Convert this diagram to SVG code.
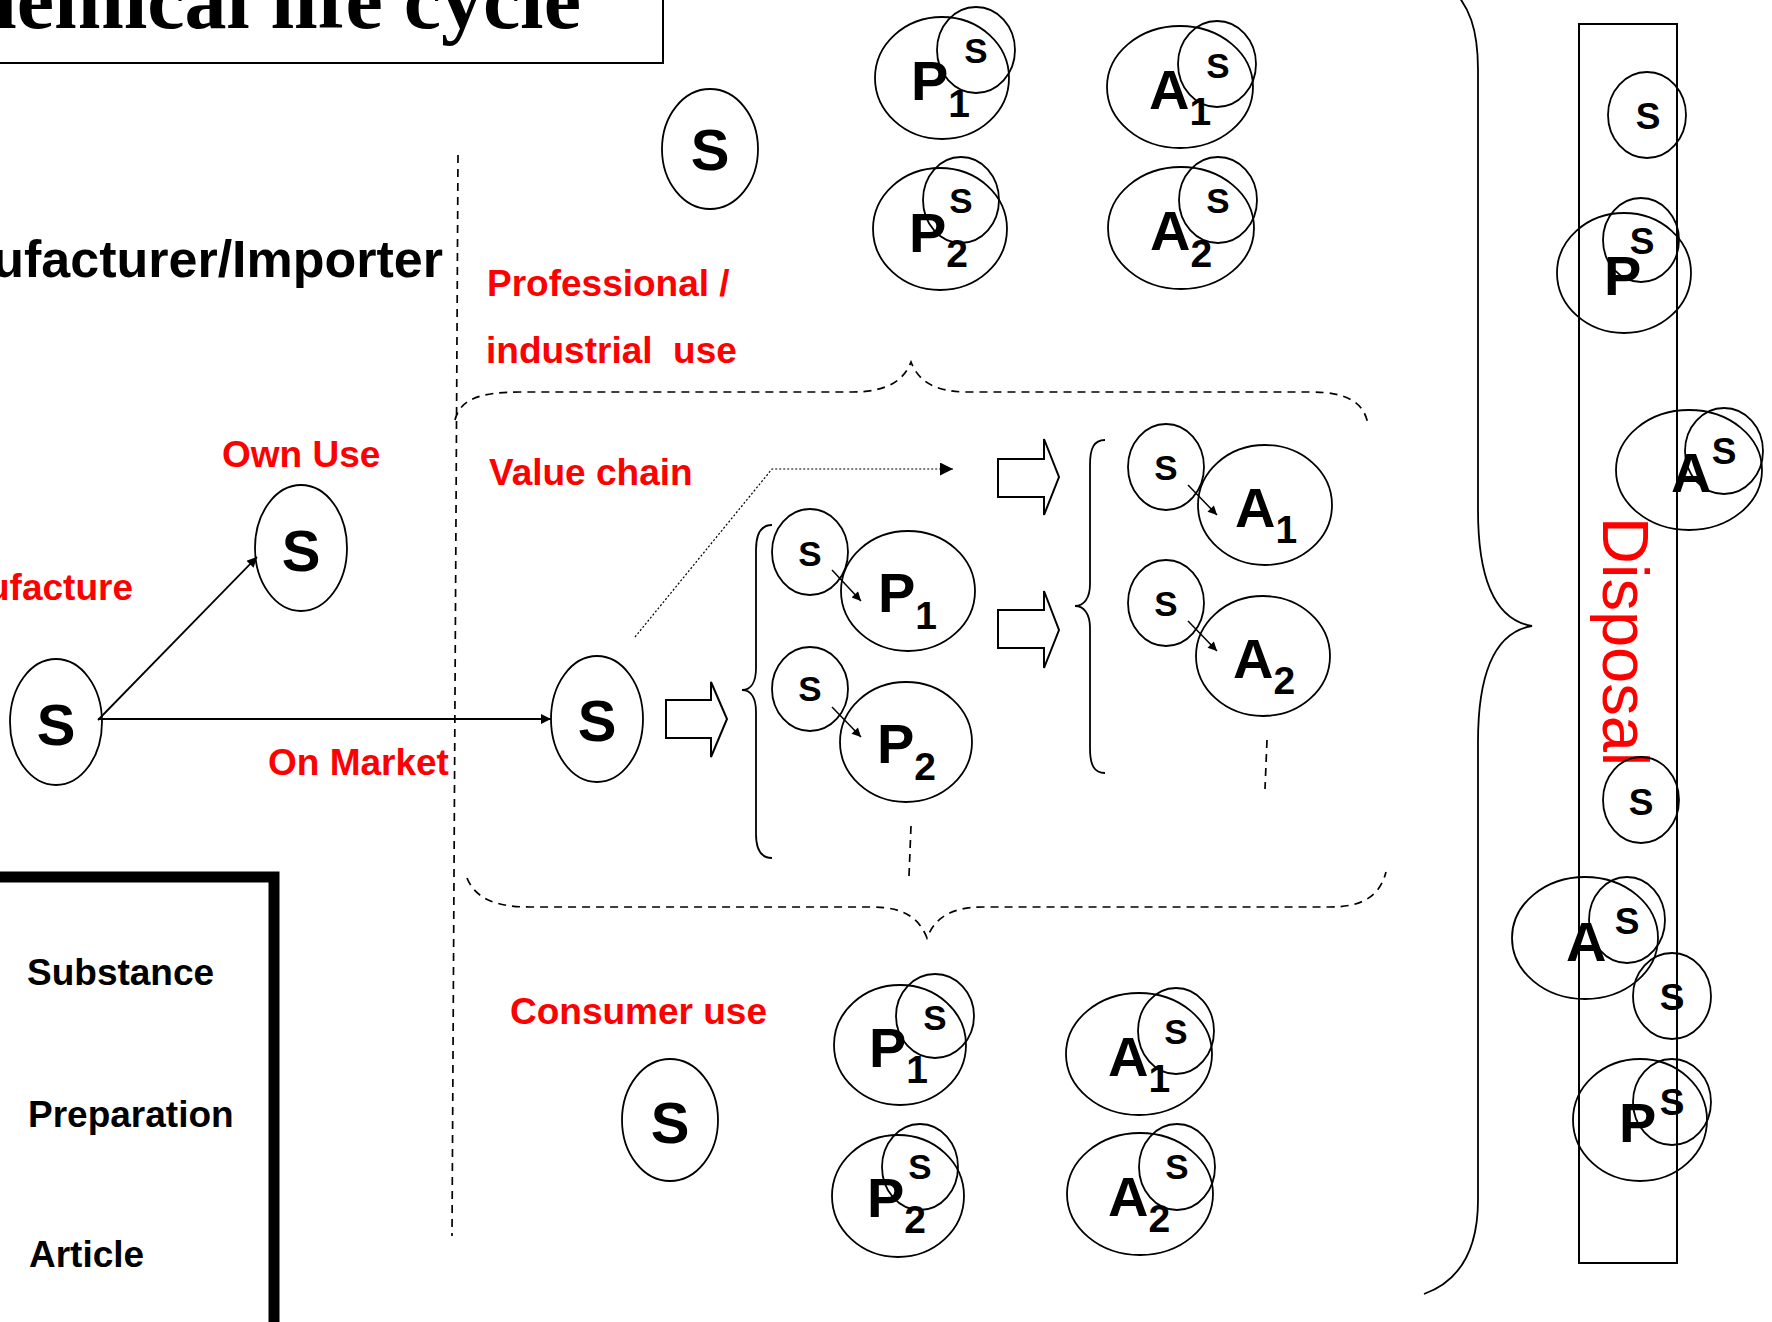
<svg xmlns="http://www.w3.org/2000/svg" width="1772" height="1322" viewBox="0 0 1772 1322">
  <style>
    .ol{fill:none;stroke:#000;stroke-width:1.8}
    .lb{font-family:"Liberation Sans",Arial,sans-serif;font-weight:bold;fill:#000}
    .big{font-size:58px;text-anchor:middle}
    .sm{font-size:35px;text-anchor:middle}
    .ds{font-size:37px;text-anchor:middle}
    .pa{font-size:56px}
    .sub{font-size:39px}
    .red{font-family:"Liberation Sans",Arial,sans-serif;font-weight:bold;font-size:37px;fill:#ff0000}
    .blk{font-family:"Liberation Sans",Arial,sans-serif;font-weight:bold;font-size:37px;fill:#000}
    .dash{fill:none;stroke:#000;stroke-width:1.7;stroke-dasharray:8 6}
    .brace{fill:none;stroke:#000;stroke-width:1.8}
    .ln{fill:none;stroke:#000;stroke-width:1.8}
    .thin{fill:none;stroke:#000;stroke-width:1.5}
    .blockarrow{fill:#fff;stroke:#000;stroke-width:2}
  </style>
  <defs>
    <marker id="head" viewBox="0 0 10 10" refX="10" refY="5" markerWidth="14" markerHeight="10" markerUnits="userSpaceOnUse" orient="auto">
      <path d="M0,0 L10,5 L0,10 z" fill="#000"/>
    </marker>
    <marker id="headSmall" viewBox="0 0 10 10" refX="10" refY="5" markerWidth="12" markerHeight="9" markerUnits="userSpaceOnUse" orient="auto">
      <path d="M0,0 L10,5 L0,10 z" fill="#000"/>
    </marker>
    <marker id="headDot" viewBox="0 0 10 10" refX="10" refY="5" markerWidth="15" markerHeight="13" markerUnits="userSpaceOnUse" orient="auto">
      <path d="M0,0 L10,5 L0,10 z" fill="#000"/>
    </marker>
  </defs>

  <rect x="0" y="0" width="1772" height="1322" fill="#fff"/>

  <!-- title box -->
  <g id="title">
    <rect x="-10" y="-10" width="673" height="73" fill="#fff" stroke="#000" stroke-width="2"/>
    <text x="581" y="28" text-anchor="end" font-family="'Liberation Serif','Times New Roman',serif" font-weight="bold" font-size="84">Chemical life cycle</text>
  </g>

  <!-- section labels -->
  <g id="labels">
    <text class="lb" x="443" y="277" font-size="52" text-anchor="end">Manufacturer/Importer</text>
    <text class="red" x="487" y="296">Professional /</text>
    <text class="red" x="486" y="363" xml:space="preserve">industrial  use</text>
    <text class="red" x="222" y="467">Own Use</text>
    <text class="red" x="133" y="600" text-anchor="end">Manufacture</text>
    <text class="red" x="489" y="485">Value chain</text>
    <text class="red" x="268" y="775">On Market</text>
    <text class="red" x="510" y="1024">Consumer use</text>
  </g>

  <!-- legend -->
  <g id="legend">
    <path d="M -10 877 H 274 V 1335" fill="none" stroke="#000" stroke-width="11"/>
    <text class="blk" x="27" y="985">Substance</text>
    <text class="blk" x="28" y="1127">Preparation</text>
    <text class="blk" x="29" y="1267">Article</text>
  </g>

  <!-- separators and braces -->
  <g id="braces">
    <line class="dash" x1="458" y1="155" x2="452" y2="1236"/>
    <path class="dash" d="M 455 420 C 460 400 478 392 520 392 L 852 392 C 888 392 904 380 911 362 C 918 380 933 392 968 392 L 1310 392 C 1350 392 1364 404 1368 424"/>
    <path class="dash" d="M 467 878 C 475 898 495 907 530 907 L 872 907 C 906 907 920 920 927 938 C 934 920 948 907 984 907 L 1330 907 C 1364 907 1380 895 1386 872"/>
    <line class="dash" x1="911" y1="826" x2="909" y2="876"/>
    <line class="dash" x1="1267" y1="740" x2="1265" y2="789"/>
    <path class="brace" d="M 772 525 C 761 525 756 533 756 550 L 756 668 C 756 682 751 690 742 690 C 751 690 756 698 756 712 L 756 834 C 756 850 761 858 772 858"/>
    <path class="brace" d="M 1105 440 C 1094 440 1090 448 1090 465 L 1090 584 C 1090 598 1084 606 1075 606 C 1084 606 1090 614 1090 628 L 1090 748 C 1090 765 1094 773 1105 773"/>
    <path class="brace" d="M 1448 -15 C 1470 5 1478 30 1478 70 L 1478 510 C 1478 582 1496 620 1532 626 C 1496 632 1478 672 1478 742 L 1478 1200 C 1478 1250 1460 1281 1424 1294"/>
  </g>

  <!-- connectors -->
  <g id="connectors">
    <line class="ln" x1="98" y1="720" x2="257" y2="557" marker-end="url(#head)"/>
    <line class="ln" x1="98" y1="719" x2="551" y2="719" marker-end="url(#head)"/>
    <polyline points="635,637 772,469 953,469" fill="none" stroke="#000" stroke-width="1.2" stroke-dasharray="2 2" marker-end="url(#headDot)"/>
    <polygon class="blockarrow" points="666,700 711,700 711,682 727,719 711,757 711,738 666,738"/>
    <polygon class="blockarrow" points="998,459 1044,459 1044,439 1059,477 1044,515 1044,497 998,497"/>
    <polygon class="blockarrow" points="998,610 1044,610 1044,591 1059,630 1044,668 1044,648 998,648"/>
    <line class="thin" x1="832" y1="570" x2="861" y2="601" marker-end="url(#headSmall)"/>
    <line class="thin" x1="832" y1="707" x2="861" y2="737" marker-end="url(#headSmall)"/>
    <line class="thin" x1="1188" y1="485" x2="1217" y2="515" marker-end="url(#headSmall)"/>
    <line class="thin" x1="1188" y1="621" x2="1217" y2="651" marker-end="url(#headSmall)"/>
  </g>

  <!-- manufacturer side -->
  <g id="s-manufacture">
    <ellipse class="ol" cx="56" cy="722" rx="46" ry="63"/>
    <text class="lb big" x="56" y="745">S</text>
  </g>
  <g id="s-own-use">
    <ellipse class="ol" cx="301" cy="548" rx="46" ry="63"/>
    <text class="lb big" x="301" y="571">S</text>
  </g>
  <g id="s-market">
    <ellipse class="ol" cx="597" cy="719" rx="46" ry="63"/>
    <text class="lb big" x="597" y="741">S</text>
  </g>

  <!-- value chain -->
  <g id="vc-p1">
    <ellipse class="ol" cx="810" cy="552" rx="38" ry="43"/>
    <text class="lb sm" x="810" y="566">S</text>
    <ellipse class="ol" cx="908" cy="591" rx="67" ry="60"/>
    <text class="lb pa" x="878" y="612">P<tspan class="sub" dy="17">1</tspan></text>
  </g>
  <g id="vc-p2">
    <ellipse class="ol" cx="810" cy="689" rx="38" ry="42"/>
    <text class="lb sm" x="810" y="701">S</text>
    <ellipse class="ol" cx="906" cy="742" rx="66" ry="60"/>
    <text class="lb pa" x="877" y="763">P<tspan class="sub" dy="17">2</tspan></text>
  </g>
  <g id="vc-a1">
    <ellipse class="ol" cx="1166" cy="467" rx="38" ry="43"/>
    <text class="lb sm" x="1166" y="480">S</text>
    <ellipse class="ol" cx="1265" cy="505" rx="67" ry="60"/>
    <text class="lb pa" x="1235" y="527">A<tspan class="sub" dy="16">1</tspan></text>
  </g>
  <g id="vc-a2">
    <ellipse class="ol" cx="1166" cy="603" rx="38" ry="43"/>
    <text class="lb sm" x="1166" y="616">S</text>
    <ellipse class="ol" cx="1263" cy="656" rx="67" ry="60"/>
    <text class="lb pa" x="1233" y="678">A<tspan class="sub" dy="16">2</tspan></text>
  </g>

  <!-- professional / industrial use -->
  <g id="pro-s">
    <ellipse class="ol" cx="710" cy="149" rx="48" ry="60"/>
    <text class="lb big" x="710" y="170">S</text>
  </g>
  <g id="pro-p1">
    <ellipse class="ol" cx="942" cy="78" rx="67" ry="61"/>
    <ellipse class="ol" cx="976" cy="50" rx="39" ry="43"/>
    <text class="lb sm" x="976" y="63">S</text>
    <text class="lb pa" x="911" y="100">P<tspan class="sub" dy="17">1</tspan></text>
  </g>
  <g id="pro-p2">
    <ellipse class="ol" cx="940" cy="229" rx="67" ry="61"/>
    <ellipse class="ol" cx="961" cy="200" rx="38" ry="43"/>
    <text class="lb sm" x="961" y="213">S</text>
    <text class="lb pa" x="909" y="252">P<tspan class="sub" dy="15">2</tspan></text>
  </g>
  <g id="pro-a1">
    <ellipse class="ol" cx="1180" cy="87" rx="73" ry="61"/>
    <ellipse class="ol" cx="1217" cy="64" rx="39" ry="43"/>
    <text class="lb sm" x="1218" y="78">S</text>
    <text class="lb pa" x="1149" y="109">A<tspan class="sub" dy="16">1</tspan></text>
  </g>
  <g id="pro-a2">
    <ellipse class="ol" cx="1181" cy="228" rx="73" ry="61"/>
    <ellipse class="ol" cx="1218" cy="200" rx="39" ry="43"/>
    <text class="lb sm" x="1218" y="213">S</text>
    <text class="lb pa" x="1150" y="250">A<tspan class="sub" dy="17">2</tspan></text>
  </g>

  <!-- consumer use -->
  <g id="con-s">
    <ellipse class="ol" cx="670" cy="1120" rx="48" ry="61"/>
    <text class="lb big" x="670" y="1143">S</text>
  </g>
  <g id="con-p1">
    <ellipse class="ol" cx="900" cy="1045" rx="66" ry="60"/>
    <ellipse class="ol" cx="935" cy="1016" rx="39" ry="42"/>
    <text class="lb sm" x="935" y="1030">S</text>
    <text class="lb pa" x="869" y="1067">P<tspan class="sub" dy="16">1</tspan></text>
  </g>
  <g id="con-p2">
    <ellipse class="ol" cx="898" cy="1196" rx="66" ry="61"/>
    <ellipse class="ol" cx="920" cy="1167" rx="38" ry="43"/>
    <text class="lb sm" x="920" y="1179">S</text>
    <text class="lb pa" x="867" y="1217">P<tspan class="sub" dy="16">2</tspan></text>
  </g>
  <g id="con-a1">
    <ellipse class="ol" cx="1139" cy="1054" rx="73" ry="61"/>
    <ellipse class="ol" cx="1176" cy="1031" rx="38" ry="43"/>
    <text class="lb sm" x="1176" y="1044">S</text>
    <text class="lb pa" x="1108" y="1076">A<tspan class="sub" dy="16">1</tspan></text>
  </g>
  <g id="con-a2">
    <ellipse class="ol" cx="1140" cy="1194" rx="73" ry="61"/>
    <ellipse class="ol" cx="1177" cy="1167" rx="38" ry="43"/>
    <text class="lb sm" x="1177" y="1179">S</text>
    <text class="lb pa" x="1108" y="1216">A<tspan class="sub" dy="16">2</tspan></text>
  </g>

  <!-- disposal column -->
  <g id="disposal">
    <rect x="1579" y="24" width="98" height="1239" fill="none" stroke="#000" stroke-width="2"/>
    <text transform="translate(1603,517) rotate(90)" font-family="'Liberation Sans',Arial,sans-serif" font-size="65" fill="#ff0000">Disposal</text>
  </g>
  <g id="d-s1">
    <ellipse class="ol" cx="1647" cy="115" rx="39" ry="43"/>
    <text class="lb ds" x="1648" y="129">S</text>
  </g>
  <g id="d-p1">
    <ellipse class="ol" cx="1624" cy="273" rx="67" ry="60"/>
    <ellipse class="ol" cx="1641" cy="240" rx="38" ry="42"/>
    <text class="lb pa" x="1604" y="295">P</text>
    <text class="lb ds" x="1642" y="254">S</text>
  </g>
  <g id="d-a1">
    <ellipse class="ol" cx="1689" cy="470" rx="73" ry="60"/>
    <ellipse class="ol" cx="1724" cy="451" rx="39" ry="43"/>
    <text class="lb pa" x="1671" y="492">A</text>
    <text class="lb ds" x="1724" y="464">S</text>
  </g>
  <g id="d-s2">
    <ellipse class="ol" cx="1641" cy="800" rx="38" ry="43"/>
    <text class="lb ds" x="1641" y="815">S</text>
  </g>
  <g id="d-a2">
    <ellipse class="ol" cx="1585" cy="938" rx="73" ry="61"/>
    <ellipse class="ol" cx="1627" cy="920" rx="38" ry="43"/>
    <text class="lb pa" x="1566" y="961">A</text>
    <text class="lb ds" x="1627" y="934">S</text>
  </g>
  <g id="d-s3">
    <ellipse class="ol" cx="1672" cy="996" rx="39" ry="43"/>
    <text class="lb ds" x="1672" y="1010">S</text>
  </g>
  <g id="d-p2">
    <ellipse class="ol" cx="1640" cy="1120" rx="67" ry="61"/>
    <ellipse class="ol" cx="1672" cy="1102" rx="39" ry="43"/>
    <text class="lb pa" x="1619" y="1142">P</text>
    <text class="lb ds" x="1672" y="1115">S</text>
  </g>
</svg>
